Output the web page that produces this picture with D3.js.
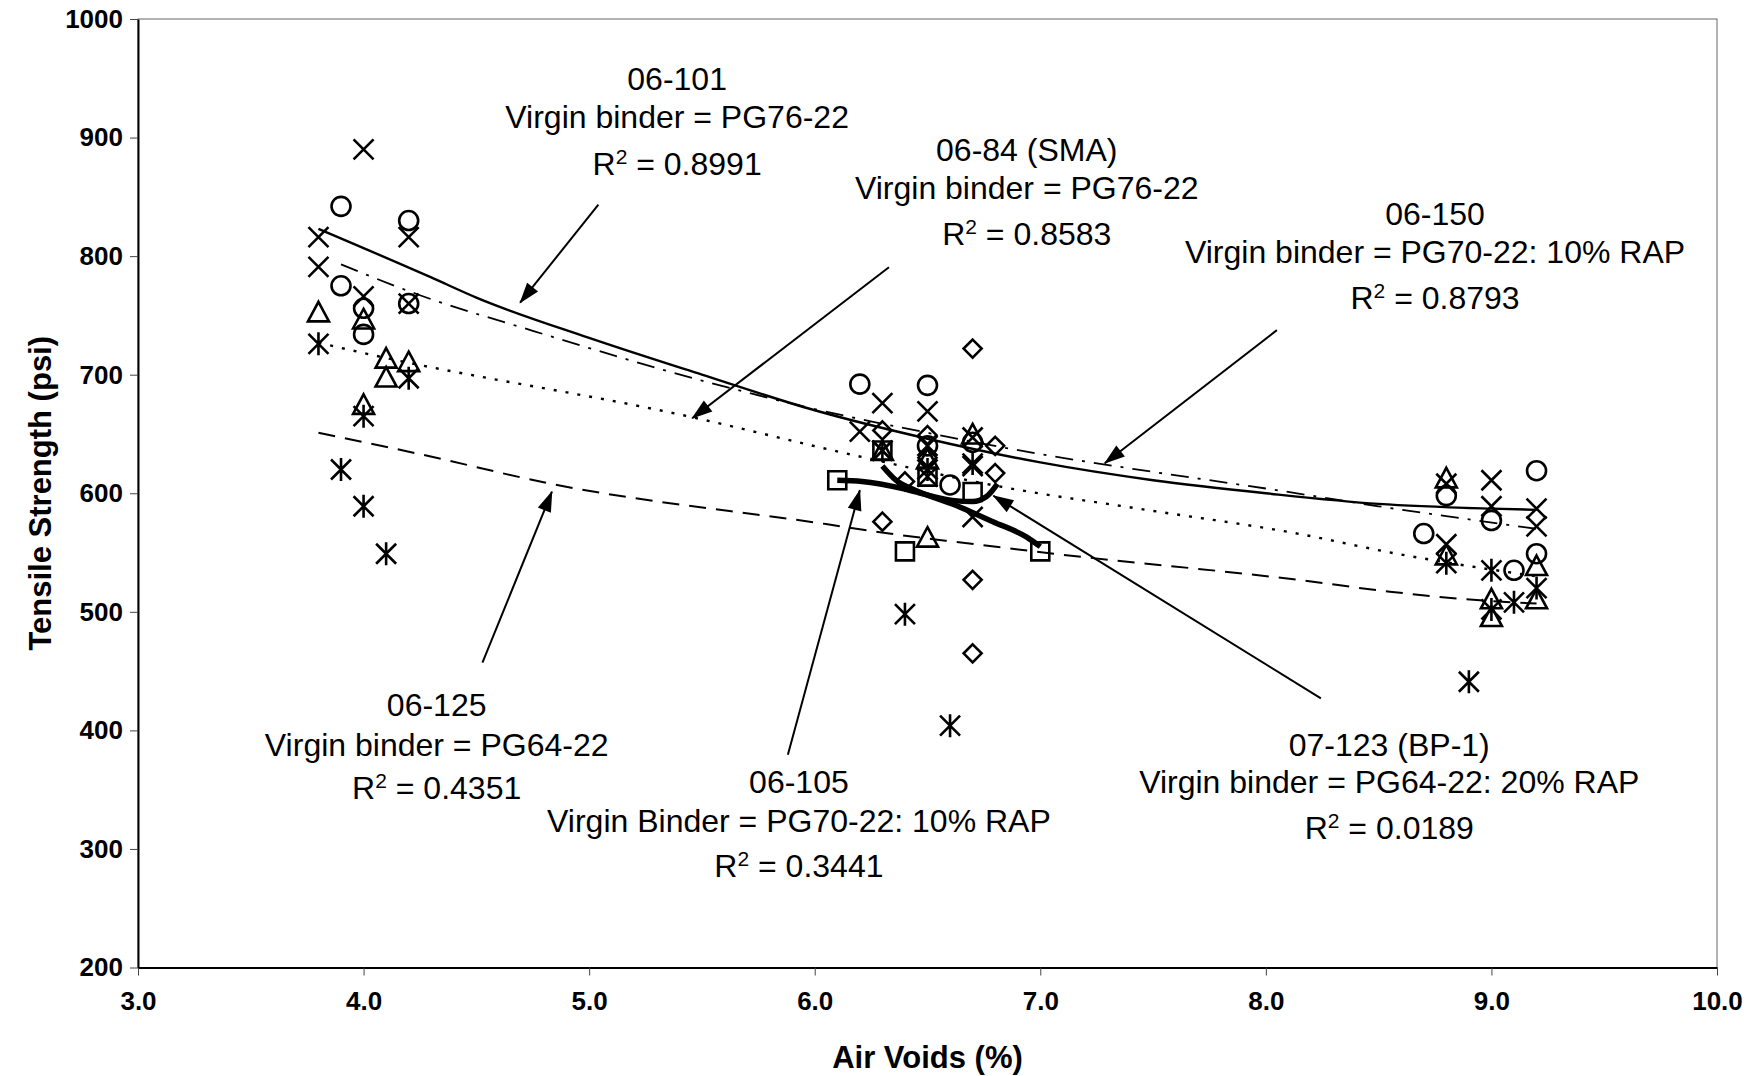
<!DOCTYPE html>
<html lang="en">
<head>
<meta charset="UTF-8">
<title>Tensile Strength vs Air Voids</title>
<script src="https://d3js.org/d3.v7.min.js"></script>
<style>
  body { margin: 0; background: #fff; }
  svg text { font-family: "Liberation Sans", Arial, sans-serif; fill: #000; }
  .tick text { font-size: 26px; font-weight: bold; }
  .axis-title { font-size: 31px; font-weight: bold; }
  .note { font-size: 32px; }
</style>
</head>
<body>
<svg width="1760" height="1076"></svg>
<script>
// ---- data ----
const xTicks = [3, 4, 5, 6, 7, 8, 9, 10];
const yTicks = [200, 300, 400, 500, 600, 700, 800, 900, 1000];

// scatter points [air voids %, tensile strength psi]
const crossPts = [[3.8, 816], [3.8, 791], [4.0, 890], [4.0, 766], [4.2, 816], [4.2, 760],
  [6.2, 652], [6.3, 676], [6.3, 636], [6.5, 669], [6.5, 640], [6.5, 614], [6.7, 647], [6.7, 623], [6.7, 580],
  [8.8, 608], [8.8, 557], [9.0, 611], [9.0, 589], [9.2, 587], [9.2, 572]];
const circlePts = [[3.9, 842], [3.9, 775], [4.0, 756], [4.0, 734], [4.2, 830], [4.2, 760],
  [6.2, 692], [6.5, 691], [6.5, 640], [6.6, 607], [6.7, 643],
  [8.7, 566], [8.8, 598], [9.0, 577], [9.1, 535], [9.2, 619], [9.2, 549]];
const trianglePts = [[3.8, 753], [4.0, 747], [4.0, 675], [4.1, 714], [4.1, 698], [4.2, 711],
  [6.3, 636], [6.5, 629], [6.5, 563], [6.7, 650],
  [8.8, 613], [8.8, 548], [9.0, 511], [9.0, 496], [9.2, 539], [9.2, 511]];
const starPts = [[3.8, 726], [3.9, 620], [4.0, 665], [4.0, 589], [4.1, 549], [4.2, 697],
  [6.3, 636], [6.4, 498], [6.5, 620], [6.6, 404], [6.7, 625],
  [8.8, 541], [8.9, 441], [9.0, 535], [9.0, 502], [9.1, 508], [9.2, 520]];
const diamondPts = [[6.3, 653], [6.3, 576], [6.4, 610], [6.5, 649], [6.5, 630], [6.7, 722], [6.7, 527], [6.7, 465],
  [6.8, 640], [6.8, 617]];
const squarePts = [[6.1, 611], [6.3, 636], [6.4, 551], [6.5, 614], [6.7, 601], [7.0, 551]];

// trend lines
const fit06101 = [[3.8, 823], [4.3, 782], [4.5, 765], [5.0, 731], [5.5, 700], [6.0, 670], [6.5, 646],
  [7.0, 626], [7.5, 611], [8.0, 600], [8.5, 591], [9.0, 587], [9.2, 586]];
const fit06150 = [[3.9, 793], [4.25, 767], [4.75, 737], [5.5, 695], [6.0, 671], [6.5, 651], [7.0, 633],
  [7.5, 618], [8.0, 604], [8.5, 589], [9.2, 570]];
const fit0684 = [[3.8, 727], [4.03, 717], [5.46, 664], [6.13, 634], [6.84, 605], [7.47, 586], [8.14, 566],
  [8.58, 549], [8.92, 538], [9.2, 530]];
const fit06125 = [[3.8, 651], [4.25, 633], [4.83, 608], [6.05, 574], [6.33, 566], [6.58, 560], [6.84, 554],
  [7.06, 549], [8.14, 527], [8.55, 517], [9.0, 509], [9.2, 507]];
const fit06105 = [[6.1, 611], [6.21, 610], [6.39, 604], [6.51, 598], [6.61, 594], [6.70, 593], [6.76, 597], [6.81, 608]];
const fit07123 = [[6.3, 623], [6.36, 611], [6.44, 603], [6.61, 591], [6.79, 576], [6.94, 563], [7.0, 555]];

// annotation text: centre x, centre y of each line (data units)
const notes = [
  {x: 5.39, y: [949.7, 917.6, 877.8], lines: ["06-101", "Virgin binder = PG76-22"], r2: "0.8991"},
  {x: 6.94, y: [890.1, 857.9, 819.1], lines: ["06-84 (SMA)", "Virgin binder = PG76-22"], r2: "0.8583"},
  {x: 8.75, y: [836.1, 804.0, 765.2], lines: ["06-150", "Virgin binder = PG70-22: 10% RAP"], r2: "0.8793"},
  {x: 4.324, y: [421.5, 388.3, 351.5], lines: ["06-125", "Virgin binder = PG64-22"], r2: "0.4351"},
  {x: 5.93, y: [357.2, 324.0, 286.1], lines: ["06-105", "Virgin Binder = PG70-22: 10% RAP"], r2: "0.3441"},
  {x: 8.547, y: [388.3, 357.2, 318.3], lines: ["07-123 (BP-1)", "Virgin binder = PG64-22: 20% RAP"], r2: "0.0189"}
];
// arrows: [from, to] in data units
const arrows = [
  [[5.041, 843.5], [4.694, 760.7]],
  [[6.329, 790.6], [5.457, 663.3]],
  [[8.049, 737.6], [7.286, 625.3]],
  [[4.527, 457.2], [4.835, 601.3]],
  [[5.881, 379.5], [6.200, 602.5]],
  [[8.244, 427.0], [6.792, 597.9]]
];

// ---- layout ----
const svg = d3.select("svg"),
      margin = {top: 19, right: 43, bottom: 108.5, left: 138},
      width = +svg.attr("width") - margin.left - margin.right,
      height = +svg.attr("height") - margin.top - margin.bottom;

const g = svg.append("g").attr("transform", `translate(${margin.left},${margin.top})`);

const x = d3.scaleLinear().domain([3, 10]).range([0, width]);
const y = d3.scaleLinear().domain([200, 1000]).range([height, 0]);

svg.append("defs").append("marker")
  .attr("id", "head")
  .attr("markerUnits", "userSpaceOnUse")
  .attr("viewBox", "-22 -8 24 16")
  .attr("refX", 0).attr("refY", 0)
  .attr("markerWidth", 24).attr("markerHeight", 16)
  .attr("orient", "auto")
  .append("path").attr("d", "M1,0 L-20,-7 L-20,7 Z").attr("fill", "#000");

// plot frame
g.append("rect")
  .attr("width", width).attr("height", height)
  .attr("fill", "none").attr("stroke", "#666").attr("stroke-width", 1);

// axes
const xAxis = g.append("g")
  .attr("transform", `translate(0,${height})`)
  .call(d3.axisBottom(x).tickValues(xTicks).tickFormat(d3.format(".1f")).tickSizeInner(8).tickSizeOuter(0).tickPadding(16));
const yAxis = g.append("g")
  .call(d3.axisLeft(y).tickValues(yTicks).tickFormat(d3.format("d")).tickSizeInner(8).tickSizeOuter(0).tickPadding(7));
[xAxis, yAxis].forEach(a => {
  a.select(".domain").attr("stroke", "#000").attr("stroke-width", 2);
  a.selectAll(".tick line").attr("stroke", "#444").attr("stroke-width", 1);
});

svg.append("text").attr("class", "axis-title")
  .attr("x", margin.left + width / 2).attr("y", 1068)
  .attr("text-anchor", "middle").text("Air Voids (%)");
svg.append("text").attr("class", "axis-title")
  .attr("transform", `translate(51,${margin.top + height / 2}) rotate(-90)`)
  .attr("text-anchor", "middle").text("Tensile Strength (psi)");

// trend lines
const line = d3.line().x(d => x(d[0])).y(d => y(d[1])).curve(d3.curveMonotoneX);
const fits = [
  {pts: fit06125, w: 2, dash: "17,10"},
  {pts: fit0684, w: 2.4, dash: "3,9"},
  {pts: fit06150, w: 1.8, dash: "18,9,3,9"},
  {pts: fit06101, w: 2.4, dash: null},
  {pts: fit06105, w: 5.5, dash: null},
  {pts: fit07123, w: 5.5, dash: null}
];
fits.forEach(f => {
  g.append("path").datum(f.pts)
    .attr("d", line)
    .attr("fill", "none")
    .attr("stroke", "#000")
    .attr("stroke-width", f.w)
    .attr("stroke-dasharray", f.dash);
});

// marker shapes
const shapes = {
  cross: "M-10,-10L10,10M-10,10L10,-10",
  star: "M-10,-10L10,10M-10,10L10,-10M0,-11.5L0,11.5",
  triangle: "M0,-10L10.5,9.5L-10.5,9.5Z",
  diamond: "M0,-9L9,0L0,9L-9,0Z",
  square: "M-9,-9L9,-9L9,9L-9,9Z",
  circle: "M9.5,0A9.5,9.5 0 1,1 -9.5,0A9.5,9.5 0 1,1 9.5,0Z"
};
const series = [
  {pts: diamondPts, shape: "diamond"},
  {pts: squarePts, shape: "square"},
  {pts: trianglePts, shape: "triangle"},
  {pts: circlePts, shape: "circle"},
  {pts: crossPts, shape: "cross"},
  {pts: starPts, shape: "star"}
];
series.forEach(s => {
  g.append("g").selectAll("path")
    .data(s.pts)
    .enter().append("path")
    .attr("transform", d => `translate(${x(d[0])},${y(d[1])})`)
    .attr("d", shapes[s.shape])
    .attr("fill", "none")
    .attr("stroke", "#000")
    .attr("stroke-width", 2.6);
});

// arrows
arrows.forEach(a => {
  g.append("line")
    .attr("x1", x(a[0][0])).attr("y1", y(a[0][1]))
    .attr("x2", x(a[1][0])).attr("y2", y(a[1][1]))
    .attr("stroke", "#000").attr("stroke-width", 2)
    .attr("marker-end", "url(#head)");
});

// labels
notes.forEach(n => {
  n.lines.forEach((t, i) => {
    g.append("text").attr("class", "note")
      .attr("x", x(n.x)).attr("y", y(n.y[i])).attr("dy", "0.36em")
      .attr("text-anchor", "middle").text(t);
  });
  const r = g.append("text").attr("class", "note")
    .attr("x", x(n.x)).attr("y", y(n.y[2])).attr("dy", "0.36em")
    .attr("text-anchor", "middle");
  r.append("tspan").text("R");
  r.append("tspan").attr("baseline-shift", "super").attr("font-size", "21px").text("2");
  r.append("tspan").text(" = " + n.r2);
});
</script>
</body>
</html>
